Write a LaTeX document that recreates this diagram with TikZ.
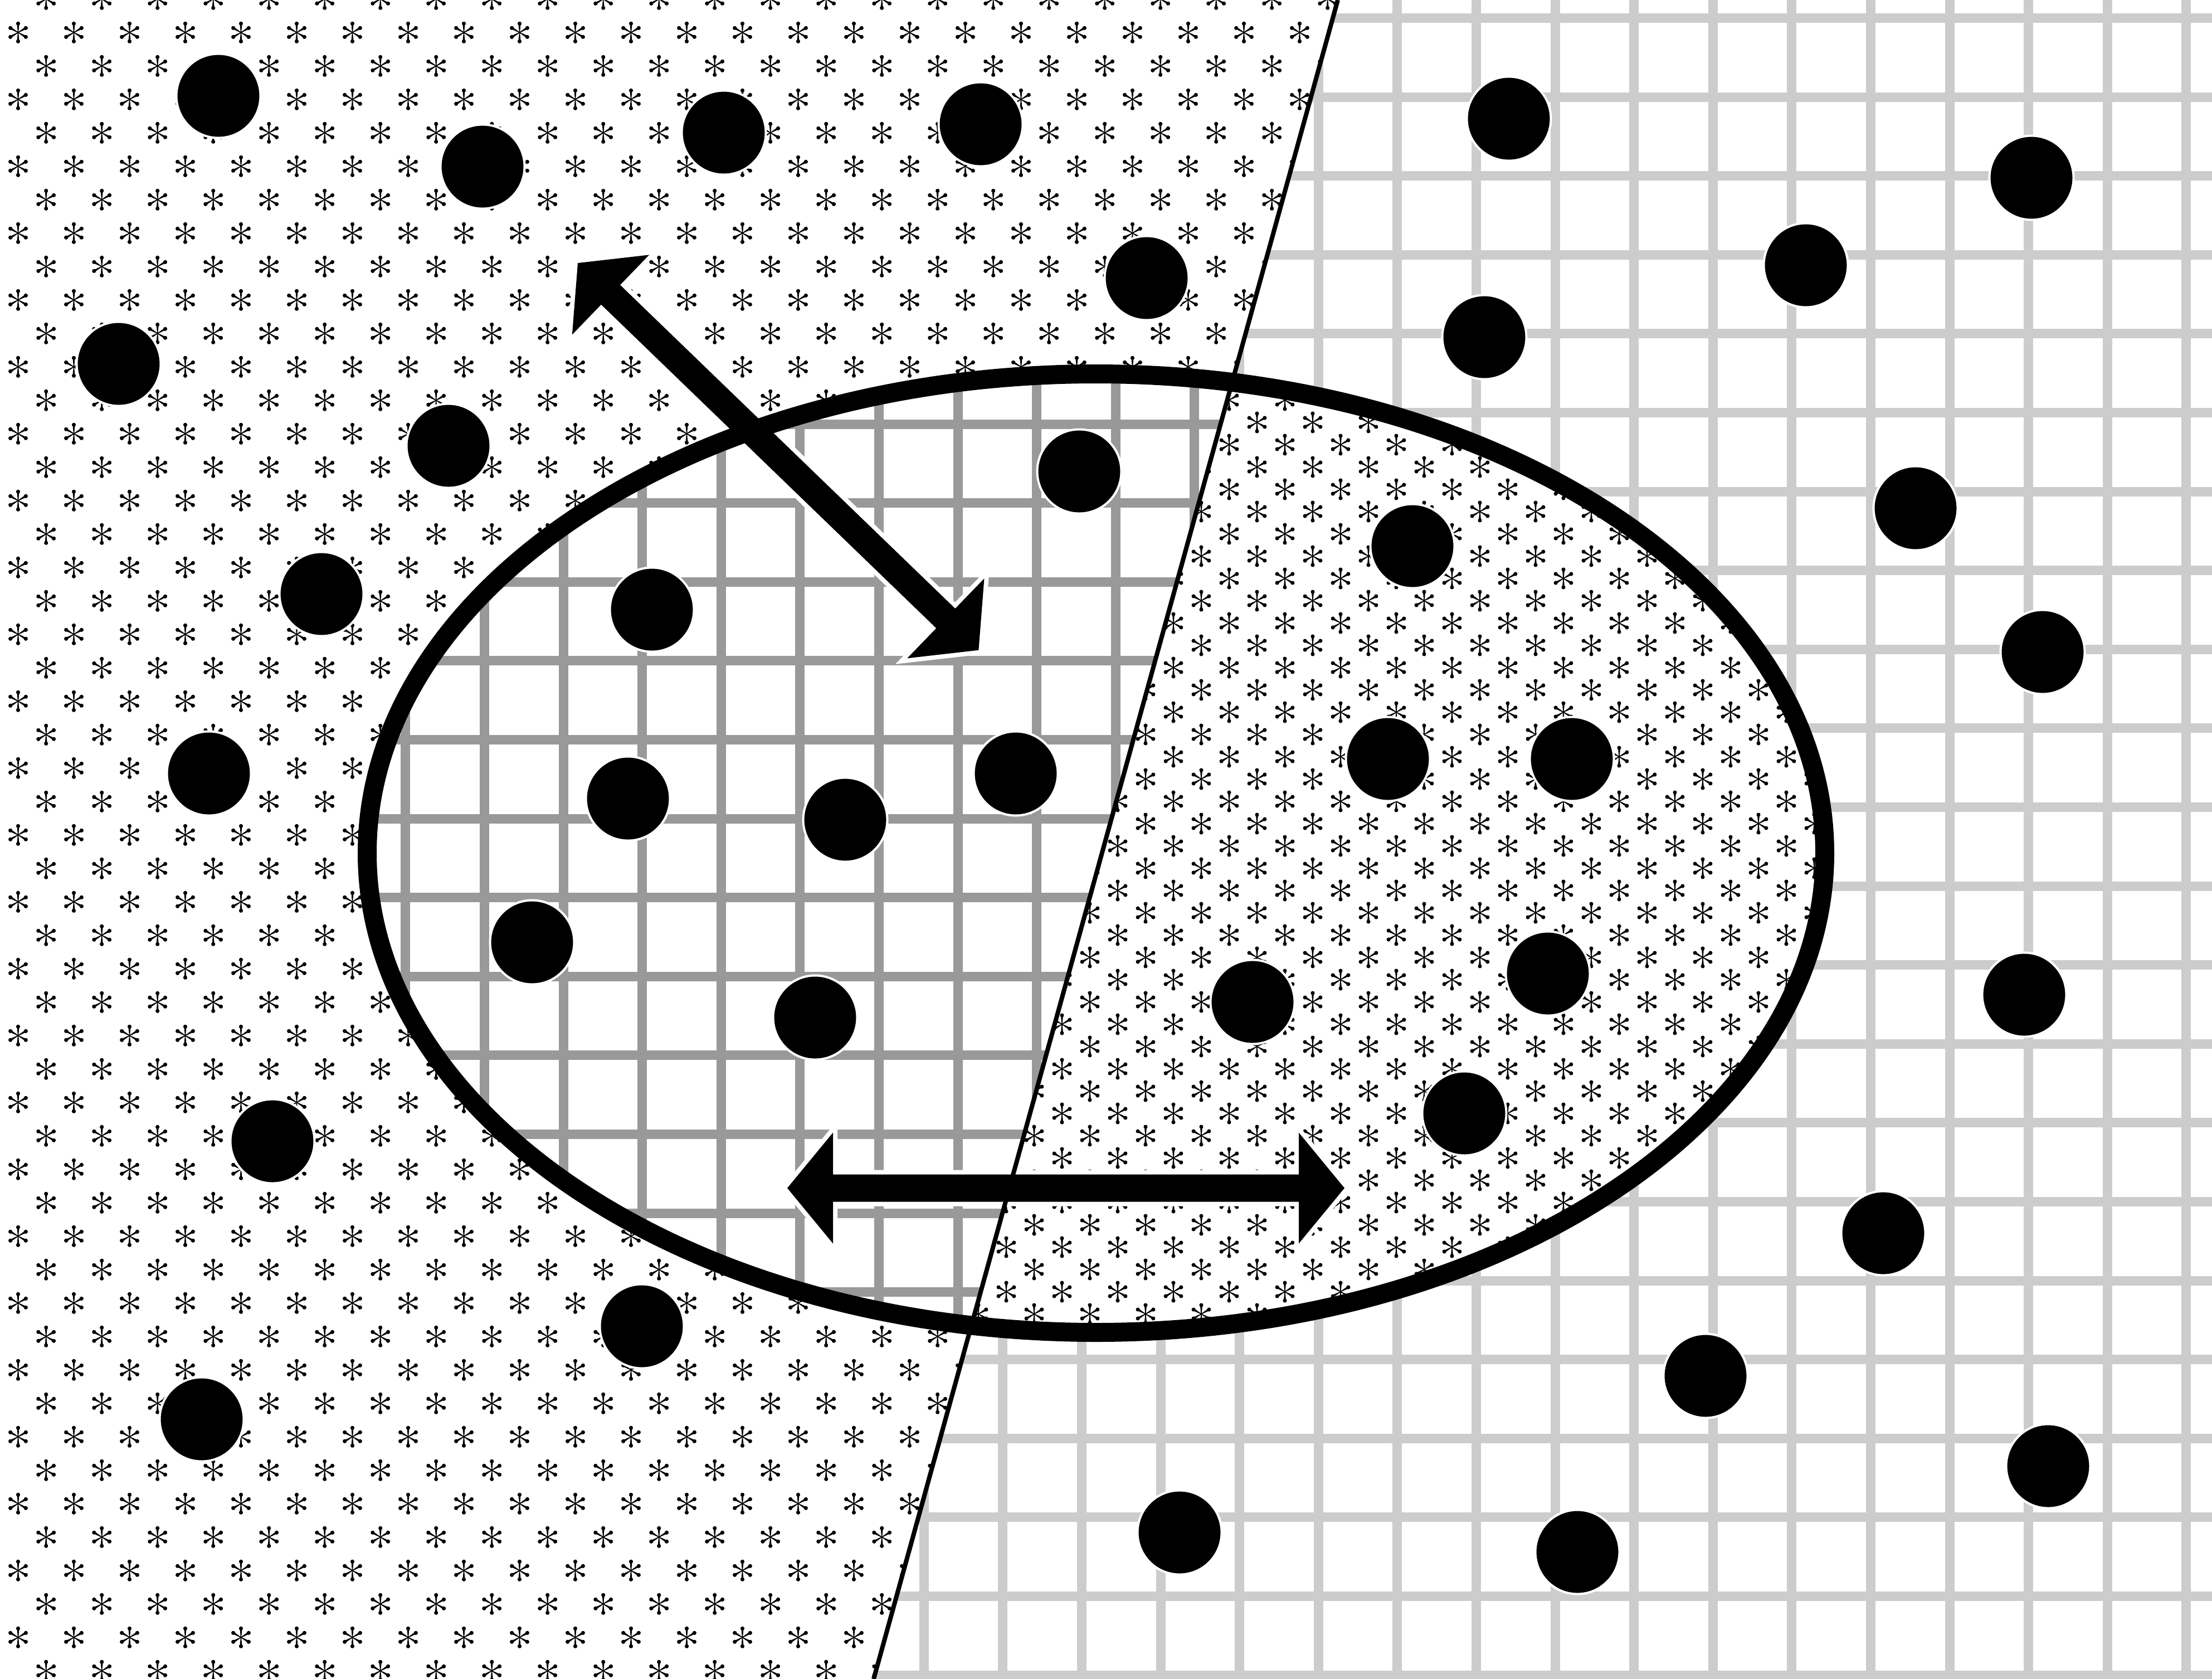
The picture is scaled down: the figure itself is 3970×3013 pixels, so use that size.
\documentclass[tikz,border=0pt]{standalone}
\usetikzlibrary{patterns.meta}
\tikzdeclarepattern{
  name=sparsestars,
  type=uncolored,
  bottom left={(0mm,0mm)},
  top right={(10mm,12mm)},
  tile size={(10mm,12mm)},
  code={
    \foreach \px/\py in {3.25/7.47,8.27/1.47,8.27/13.47}
      \fill[shift={(\px mm,\py mm)}] \foreach \a in {90,150,...,390}{(\a+90:0.06mm) -- (\a+7.96:1.3mm) arc[start angle=\a+150,end angle=\a-150,radius=0.36mm] -- (\a-90:0.06mm) -- cycle};
  }
}
\tikzdeclarepattern{
  name=densestars,
  type=uncolored,
  bottom left={(0mm,0mm)},
  top right={(10mm,8mm)},
  tile size={(10mm,8mm)},
  code={
    \foreach \px/\py in {0.7/5.5,10.7/5.5,5.7/1.5,5.7/9.5}
      \fill[shift={(\px mm,\py mm)}] \foreach \a in {90,150,...,390}{(\a+90:0.06mm) -- (\a+7.96:1.3mm) arc[start angle=\a+150,end angle=\a-150,radius=0.36mm] -- (\a-90:0.06mm) -- cycle};
  }
}
\begin{document}
\begin{tikzpicture}[x=0.1mm,y=-0.1mm,
  dblarrow/.pic={\fill[preaction={draw=white,line width=1.6mm,line join=miter}] (0,0) -- (82,99.5) -- (82,24.5) -- (918,24.5) -- (918,99.5) -- (1000,0) -- (918,-99.5) -- (918,-24.5) -- (82,-24.5) -- (82,-99.5) -- cycle;}]
\tikzstyle{dot}=[circle,fill=black,draw=white,line width=0.4mm,minimum size=15.1mm,inner sep=0pt]
\tikzstyle{outergrid}=[gray!40,line width=1.7mm]
\tikzstyle{innergrid}=[gray!80,line width=1.7mm]
\useasboundingbox (0,0) rectangle (3970,3013);
\fill[white] (0,0) rectangle (3970,3013);
\coordinate (top) at (2401,0);
\coordinate (bot) at (1568,3013);
\coordinate (ctr) at (1967,1531);
\fill[pattern=sparsestars,pattern color=black] (0,0) -- (top) -- (bot) -- (0,3013) -- cycle;
\begin{scope}
\clip (top) -- (3970,0) -- (3970,3013) -- (bot) -- cycle;
\foreach \x in {1516.7,1658.3,...,3970} \draw[outergrid] (\x,0) -- (\x,3013);
\foreach \y in {32.5,174.1,...,3013} \draw[outergrid] (1400,\y) -- (3970,\y);
\end{scope}
\fill[white] (ctr) ellipse [x radius=1308,y radius=860];
\begin{scope}
\clip (ctr) ellipse [x radius=1308,y radius=860];
\clip (0,0) -- (top) -- (bot) -- (0,3013) -- cycle;
\foreach \x in {727.8,869.4,...,2400} \draw[innergrid] (\x,600) -- (\x,2450);
\foreach \y in {619.4,761,...,2450} \draw[innergrid] (600,\y) -- (2450,\y);
\end{scope}
\begin{scope}
\clip (ctr) ellipse [x radius=1308,y radius=860];
\fill[pattern=densestars,pattern color=black] (top) -- (3970,0) -- (3970,3013) -- (bot) -- cycle;
\end{scope}
\coordinate (dgA) at (1037,472);
\coordinate (hzA) at (1413,2132);
\pic[rotate=-44] at (dgA) {dblarrow};
\pic at (hzA) {dblarrow};
\draw[line width=0.8mm] (top) -- (bot);
\draw[line width=3.4mm] (ctr) ellipse [x radius=1308,y radius=860];
\foreach \x/\y [count=\n] in {392/172,866/299,1299/238,1760/223,2058/499,213/653,805/800,577/1066,375/1388,489/2048,362/2547,1152/2380,1937/846,1170/1094,1127/1433,1517/1471,1823/1388,955/1691,1463/1826,2535/980,2491/1362,2821/1362,2778/1747,2248/1798,2628/1998,2708/213,3646/319,3241/476,2664/605,3438/912,3666/1170,3633/1785,3380/2213,3061/2469,3676/2631,2117/2750,2831/2785}
  \node[dot] (d\n) at (\x,\y) {};
\end{tikzpicture}
\end{document}
